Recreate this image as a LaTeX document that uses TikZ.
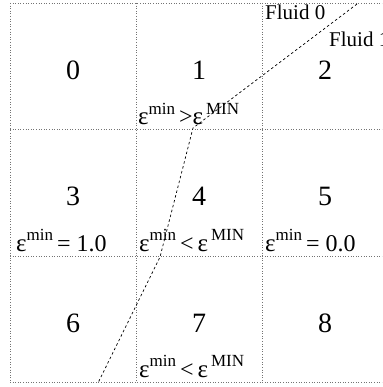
\documentclass[tikz,border=0pt]{standalone}
\usepackage{fontspec}
\setmainfont{Liberation Serif}
\newcommand{\epsup}[1]{{\fontsize{25}{25}\selectfont ε}\raisebox{0.45em}{\fontsize{17}{17}\selectfont #1}}
\begin{document}
\begin{tikzpicture}[x=1pt,y=-1pt,
  gridline/.style={draw=black!55,line width=0.6pt,dotted},
  iface/.style={draw=black,line width=0.7pt,dash pattern=on 2.5pt off 2.5pt},
  digit/.style={font=\fontsize{28}{28}\selectfont,inner sep=0pt},
  lab/.style={font=\fontsize{24}{24}\selectfont,inner sep=0pt,anchor=base west},
  fluid/.style={font=\fontsize{21}{21}\selectfont,inner sep=0pt,anchor=base west}]
\useasboundingbox (0,0) rectangle (382,387);
\begin{scope}
\clip (0,0) rectangle (382,387);
% grid
\foreach \x in {10,136,262,388} \draw[gridline] (\x,3) -- (\x,382);
\foreach \y in {3,129,256,382} \draw[gridline] (10,\y) -- (395,\y);
% cell numbers
\node[digit] (c0) at (73,70) {0};
\node[digit] (c1) at (199,70) {1};
\node[digit] (c2) at (325,70) {2};
\node[digit] (c3) at (73,196) {3};
\node[digit] (c4) at (199,196) {4};
\node[digit] (c5) at (325,196) {5};
\node[digit] (c6) at (73,323) {6};
\node[digit] (c7) at (199,323) {7};
\node[digit] (c8) at (325,323) {8};
% labels
\node[lab] (l1) at (138,125) {\epsup{min}\,>\epsup{\,MIN}};
\node[lab] (l3) at (16,251) {\epsup{min}\,= 1.0};
\node[lab] (l4) at (139,251) {\epsup{min}\,<\,\epsup{\,MIN}};
\node[lab] (l5) at (265,251) {\epsup{min}\,= 0.0};
\node[lab] (l7) at (139,377) {\epsup{min}\,<\,\epsup{\,MIN}};
\node[fluid] (f0) at (265,20) {Fluid 0};
\node[fluid] (f1) at (329,47) {Fluid 1};
% interface
\coordinate (p0) at (357,4);
\coordinate (p1) at (193,128);
\coordinate (p2) at (160,257);
\coordinate (p3) at (98,383);
\draw[iface] (p0) -- (p1) -- (p2) -- (p3);
\end{scope}
\end{tikzpicture}
\end{document}
